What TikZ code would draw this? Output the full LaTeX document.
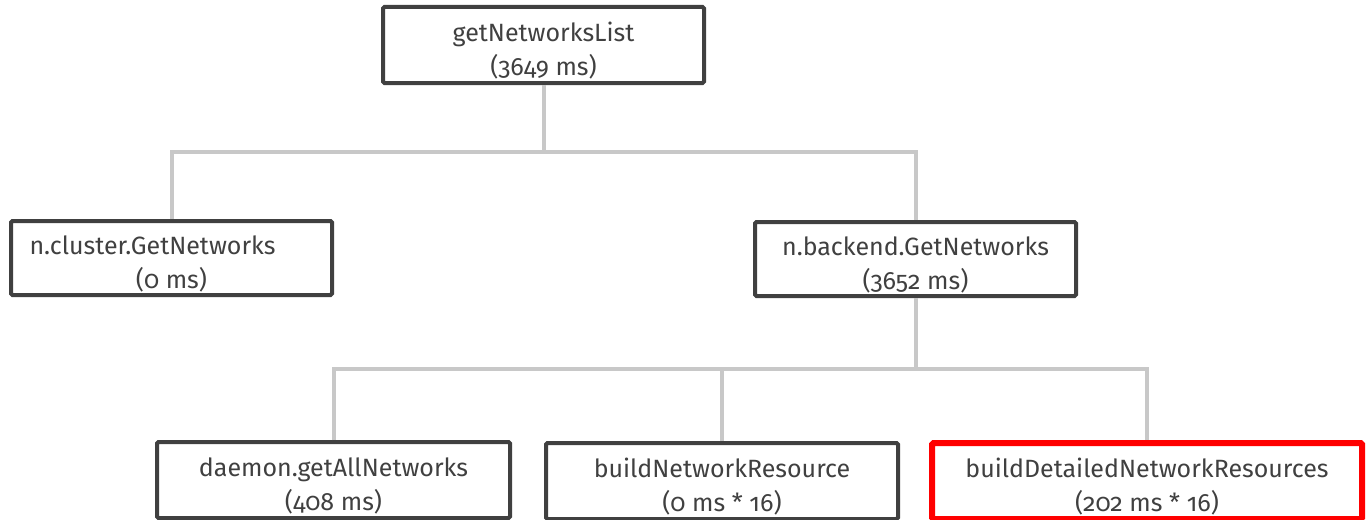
\documentclass[tikz,border=0pt]{standalone}
\usepackage{fontspec}
\setmainfont{Fira Sans}[Numbers=OldStyle]
\definecolor{boxline}{HTML}{404040}
\definecolor{textgray}{HTML}{404040}
\definecolor{wire}{HTML}{C8C8C8}
\definecolor{hot}{HTML}{FF0000}
% name on the first line, timing on the second; the strut lowers the block a little
\newcommand\calltext[2]{\rule{0pt}{30pt}#1\\#2}
\begin{document}
\begin{tikzpicture}[x=1pt,y=-1pt,
  callbox/.style={draw=boxline, line width=4pt, fill=white, rounded corners=1.5pt,
    inner sep=0pt, align=center, text=textgray,
    font=\fontsize{25}{34}\selectfont},
  midbox/.style={callbox, minimum width=321pt, minimum height=74pt},
  leafbox/.style={callbox, minimum height=76pt},
  hotbox/.style={leafbox, draw=hot, line width=6pt},
  wireline/.style={draw=wire, line width=4pt}]
\useasboundingbox (0,0) rectangle (1367,519);

% call tree boxes
\node[callbox, minimum width=321pt, minimum height=76pt] (root) at (543.5,45)
  {\calltext{getNetworksList}{(3649 ms)}};
\node[midbox] (cluster) at (171.5,258)
  {\calltext{n.cluster.GetNetworks\hspace*{38pt}}{(0 ms)}};
\node[midbox] (backend) at (915.5,259)
  {\calltext{n.backend.GetNetworks}{(3652 ms)}};
\node[leafbox, minimum width=353pt] (daemon) at (333.5,480)
  {\calltext{daemon.getAllNetworks}{(408 ms)}};
\node[leafbox, minimum width=352pt] (buildres) at (722,481)
  {\calltext{buildNetworkResource}{(0 ms * 16)}};
\node[hotbox, minimum width=430pt] (builddet) at (1147,481)
  {\calltext{buildDetailedNetworkResources}{(202 ms * 16)}};

% bus junctions
\coordinate (busA) at (543.5,152);
\coordinate (busB) at (915.5,369);

% connectors
\draw[wireline] (root.south) -- (busA);
\draw[wireline] (cluster.north) |- (busA) -| (backend.north);
\draw[wireline] (backend.south) -- (busB);
\draw[wireline] (daemon.north) |- (busB) -| (builddet.north);
\draw[wireline] (buildres.north) -- (buildres.north |- busB);
\end{tikzpicture}
\end{document}
